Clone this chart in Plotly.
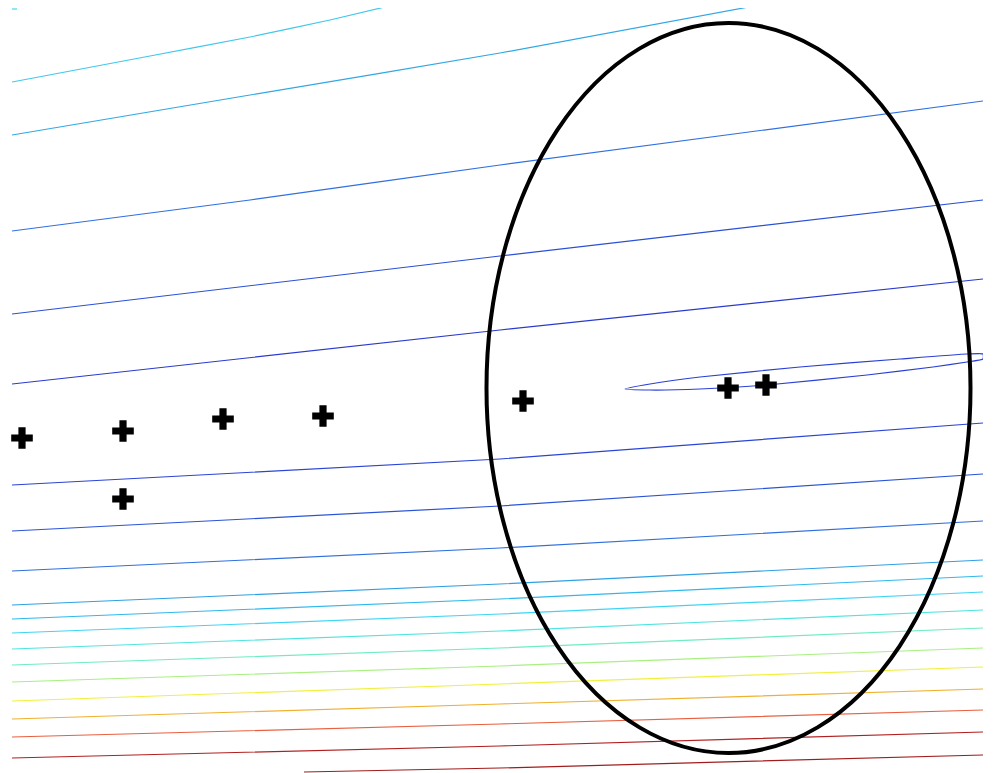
import plotly.graph_objects as go

# Contour lines (data units), top to bottom
contour_x = [
    [-0.10, -0.05],
    [-0.10, 1.28, 2.28, 3.08, 3.67],
    [-0.10, 2.28, 4.78, 7.32],
    [-0.10, 2.28, 4.78, 9.61],
    [-0.10, 4.78, 9.61],
    [-0.10, 4.78, 9.61],
    [6.03, 6.28, 6.78, 7.78, 8.78, 9.45, 9.61, 9.61, 9.45, 9.11, 8.45, 7.45, 6.78, 6.28, 6.03],
    [-0.10, 4.78, 9.61],
    [-0.10, 4.78, 9.61],
    [-0.10, 4.78, 9.61],
    [-0.10, 4.78, 9.61],
    [-0.10, 4.78, 9.61],
    [-0.10, 4.78, 9.61],
    [-0.10, 4.78, 9.61],
    [-0.10, 4.78, 9.61],
    [-0.10, 4.78, 9.61],
    [-0.10, 4.78, 9.61],
    [-0.10, 4.78, 9.61],
    [-0.10, 4.78, 9.61],
    [-0.10, 4.78, 9.61],
    [2.82, 4.78, 9.61],
]
contour_y = [
    [7.64, 7.64],
    [6.91, 7.17, 7.36, 7.53, 7.67],
    [6.38, 6.78, 7.20, 7.67],
    [5.42, 5.73, 6.08, 6.72],
    [4.59, 5.17, 5.73],
    [3.89, 4.43, 4.94],
    [3.84, 3.89, 3.96, 4.06, 4.14, 4.19, 4.19, 4.14, 4.11, 4.06, 3.98, 3.88, 3.84, 3.83, 3.84],
    [2.88, 3.14, 3.50],
    [2.42, 2.67, 2.99],
    [2.02, 2.25, 2.52],
    [1.68, 1.89, 2.13],
    [1.54, 1.74, 1.97],
    [1.40, 1.59, 1.81],
    [1.24, 1.42, 1.63],
    [1.08, 1.25, 1.45],
    [0.91, 1.07, 1.25],
    [0.72, 0.89, 1.06],
    [0.54, 0.69, 0.84],
    [0.36, 0.49, 0.63],
    [0.15, 0.27, 0.41],
    [0.01, 0.05, 0.18],
]
contour_colors = [
    "#40d8f0", "#40c8ec", "#30a8e4", "#3070e0", "#2a50d4", "#2a3acc",
    "#2a40d4", "#2a44d4", "#2a54d6", "#3070dc", "#30a0e4", "#30b8ec",
    "#40d4f4", "#50e4e0", "#70ecc0", "#a8f080", "#f0f040", "#f0b030",
    "#e86040", "#b02020", "#a01c1c",
]

# Sample points
pts_x = [0.00, 1.01, 2.01, 3.01, 1.01, 5.01, 7.06, 7.44]
pts_y = [3.35, 3.42, 3.54, 3.57, 2.74, 3.72, 3.85, 3.88]

# Confidence ellipse (center and semi-axes)
ell_cx, ell_cy = 7.065, 3.85
ell_rx, ell_ry = 2.42, 3.65

fig = go.Figure()
for cx, cy, col in zip(contour_x, contour_y, contour_colors):
    fig.add_trace(go.Scatter(x=cx, y=cy, mode="lines",
                             line=dict(color=col, width=1.2, shape="spline", smoothing=0.5),
                             hoverinfo="skip", showlegend=False))

fig.add_trace(go.Scatter(x=pts_x, y=pts_y, mode="markers",
                         marker=dict(symbol="cross", size=18, color="black",
                                     line=dict(width=0)),
                         showlegend=False, cliponaxis=False))

fig.add_shape(type="circle", xref="x", yref="y",
              x0=ell_cx - ell_rx, x1=ell_cx + ell_rx,
              y0=ell_cy - ell_ry, y1=ell_cy + ell_ry,
              line=dict(color="black", width=4))

# The page body adds an 8px offset; margins compensate so the plot area
# spans x 12..983 and y 8..773 in the window.
fig.update_layout(
    width=994, height=773,
    margin=dict(l=4, r=19, t=0, b=8),
    paper_bgcolor="white", plot_bgcolor="white",
    xaxis=dict(range=[-0.10, 9.61], visible=False, showgrid=False, zeroline=False),
    yaxis=dict(range=[0, 7.65], visible=False, showgrid=False, zeroline=False),
    showlegend=False,
)

fig.write_html("out.html")
